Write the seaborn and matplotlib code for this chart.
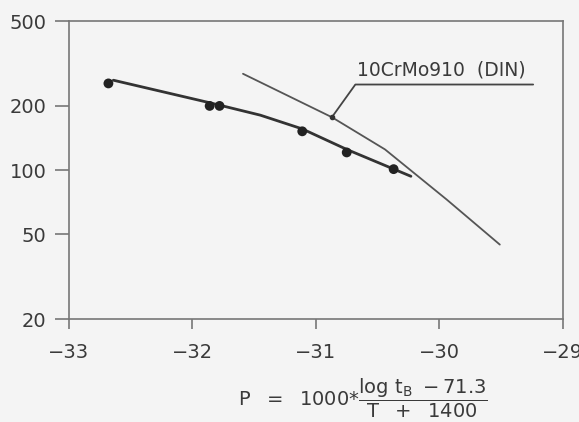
import numpy as np
import pandas as pd
import seaborn as sns
import matplotlib.pyplot as plt
from matplotlib.ticker import FixedLocator, FixedFormatter, NullLocator

# data
test_p = [-32.68, -31.86, -31.78, -31.11, -30.75, -30.37]
test_stress = [255, 200, 200, 152, 121, 101]

fit_p = [-32.64, -31.86, -31.45, -31.11, -30.75, -30.23]
fit_stress = [264, 207, 181, 156, 125, 93.5]

din_p = [-31.59, -30.87, -30.44, -29.94, -29.51]
din_stress = [283, 177, 125, 72.7, 44.7]
din_label = "10CrMo910  (DIN)"

x_ticks = [-33, -32, -31, -30, -29]
y_ticks = [20, 50, 100, 200, 500]

pts = pd.DataFrame({"P": test_p, "stress": test_stress})
fit = pd.DataFrame({"P": fit_p, "stress": fit_stress})
din = pd.DataFrame({"P": din_p, "stress": din_stress})

sns.set_theme(style="white")
plt.rcParams["font.family"] = ["DejaVu Sans"]
bg = "#f4f4f4"

fig = plt.figure(figsize=(5.79, 4.22), dpi=100, facecolor=bg)
ax = fig.add_axes([0.119, 0.244, 0.853, 0.706], facecolor=bg)

sns.lineplot(data=din, x="P", y="stress", ax=ax, color="#555555", linewidth=1.3,
             sort=False, estimator=None)
sns.lineplot(data=fit, x="P", y="stress", ax=ax, color="#333333", linewidth=2.0,
             sort=False, estimator=None)
sns.scatterplot(data=pts, x="P", y="stress", ax=ax, color="#222222", s=50,
                edgecolor="none", zorder=5)

# leader line to the DIN label
touch = 1
ax.plot([din_p[touch], -30.68, -29.24], [din_stress[touch], 252, 252],
        color="#444444", linewidth=1.3)
ax.plot([din_p[touch]], [din_stress[touch]], "o", color="#333333", markersize=3)
ax.text(-29.98, 266, din_label, ha="center", va="bottom", fontsize=13.5, color="#3a3a3a")

ax.set_yscale("log")
ax.set_xlim(-33, -29)
ax.set_ylim(20, 500)
ax.xaxis.set_major_locator(FixedLocator(x_ticks))
ax.yaxis.set_major_locator(FixedLocator(y_ticks))
ax.yaxis.set_major_formatter(FixedFormatter([str(v) for v in y_ticks]))
ax.yaxis.set_minor_locator(NullLocator())
ax.set_xlabel("")
ax.set_ylabel("")

for sp in ax.spines.values():
    sp.set_color("#777777")
    sp.set_linewidth(1.2)
ax.tick_params(axis="y", direction="out", length=10, width=1.2, color="#777777",
               labelsize=14, labelcolor="#3a3a3a", pad=6, left=True)
ax.tick_params(axis="x", direction="out", length=7, width=1.2, color="#777777",
               labelsize=14, labelcolor="#3a3a3a", pad=10, bottom=True)

fig.text(0.627, 0.055,
         r"$\mathrm{P\ \ =\ \ 1000}{*}\dfrac{\mathrm{log\ t_B\ -71.3}}{\mathrm{T\ \ +\ \ 1400}}$",
         ha="center", va="center", fontsize=14, color="#3a3a3a")

fig.savefig("out.png", dpi=100, facecolor=bg)
